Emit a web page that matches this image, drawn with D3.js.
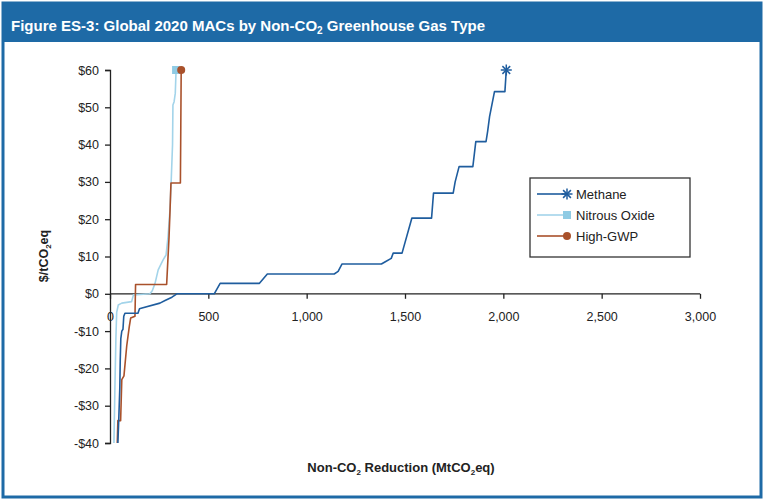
<!DOCTYPE html>
<html><head><meta charset="utf-8">
<script src="https://cdn.jsdelivr.net/npm/d3@7"></script>
<style>
body{margin:0;background:#fff;}
svg{display:block;font-family:"Liberation Sans",Arial,sans-serif;}
</style></head>
<body><svg id="c" width="764" height="502"></svg>
<script>
const seriesNames = ["Methane","Nitrous Oxide","High-GWP"];
const methaneX = [40,45,50,52,55,60,66,70,76,142,150,163,254,280,315,340,530,560,760,800,1140,1160,1180,1380,1400,1430,1440,1485,1535,1635,1645,1745,1755,1775,1845,1860,1912,1920,1930,1955,2008,2015];
const methaneY = [-40,-33,-25,-18,-12,-10,-9.5,-6,-5.2,-5.2,-4,-3.8,-2.5,-1.8,-0.9,0,0,2.8,2.8,5.3,5.3,6,8,8,8.6,9.5,10.9,10.9,20.3,20.3,27,27,30,34.1,34.1,40.8,40.8,43.5,47.5,54.2,54.2,60];
const nitrousX = [20,25,30,34,42,60,110,119,203,215,229,245,255,270,285,295,305,312,318,320,326,332,336];
const nitrousY = [-40,-25,-12,-5,-3,-2.5,-2.1,-0.3,0,0.8,2.8,6.4,7.5,9.1,10.4,15.3,22.5,31.4,40,50.6,51.5,53.8,60];
const hgwpX = [37,40,54,60,71,85,98,105,127,130,288,300,305,310,358,360,362];
const hgwpY = [-40,-34,-34,-23,-22,-14,-8.8,-6.5,-6,2.5,2.5,15,22,29.7,29.7,45,60];
const xTicks = [0,500,1000,1500,2000,2500,3000];
const yTicks = [-40,-30,-20,-10,0,10,20,30,40,50,60];
const colors = ["#1f5d9e","#a3d4ea","#a9512b"];

const svg = d3.select("#c");
// frame
svg.append("rect").attr("x",0).attr("y",0).attr("width",764).attr("height",502).attr("fill","#fff");
svg.append("rect").attr("x",3).attr("y",3).attr("width",758).attr("height",494).attr("fill","none").attr("stroke","#1e6aa6").attr("stroke-width",3);
svg.append("rect").attr("x",2).attr("y",2).attr("width",760).attr("height",40).attr("fill","#1e6aa6");
const title = svg.append("text").attr("x",11).attr("y",31).attr("fill","#fff").attr("font-weight","bold").attr("font-size",15)
  .attr("font-family","'Liberation Sans Narrow','Liberation Sans',Arial,sans-serif");
title.append("tspan").text("Figure ES-3: Global 2020 MACs by Non-CO");
title.append("tspan").text("2").attr("font-size",10).attr("dy",3);
title.append("tspan").text(" Greenhouse Gas Type").attr("dy",-3);
title.attr("textLength",474).attr("lengthAdjust","spacingAndGlyphs");

const x = d3.scaleLinear().domain([0,3000]).range([110,700]);
const y = d3.scaleLinear().domain([-40,60]).range([443,70]);

// axes
const yAxis = svg.append("g").attr("transform","translate(110,0)")
  .call(d3.axisLeft(y).tickValues(yTicks).tickSize(5).tickPadding(6)
    .tickFormat(d => (d<0?"-$":"$")+Math.abs(d)));
const xAxis = svg.append("g").attr("transform",`translate(0,${y(0)})`)
  .call(d3.axisBottom(x).tickValues(xTicks).tickSize(5).tickPadding(13).tickFormat(d3.format(",")));
[yAxis,xAxis].forEach(a=>{
  a.select(".domain").attr("stroke","#222").attr("stroke-width",1.3);
  a.selectAll(".tick line").attr("stroke","#222").attr("stroke-width",1.3);
  a.selectAll("text").attr("font-size",12.5).attr("fill","#222").attr("font-family","'Liberation Sans',Arial,sans-serif");
});
xAxis.select(".domain").attr("d",`M110,0H700`);

// lines
const line = d3.line().x(d=>x(d[0])).y(d=>y(d[1]));
const data = [
  d3.zip(methaneX, methaneY),
  d3.zip(nitrousX, nitrousY),
  d3.zip(hgwpX, hgwpY)
];
const order = [1,2,0];
order.forEach(i=>{
  svg.append("path").datum(data[i]).attr("d",line).attr("fill","none")
    .attr("stroke",colors[i]).attr("stroke-width",1.6).attr("stroke-linejoin","round");
});

function marker(g, i, cx, cy){
  if(i===0){
    const s=5.5;
    for(let k=0;k<4;k++){
      const a=k*Math.PI/4;
      g.append("line").attr("x1",cx-s*Math.cos(a)).attr("y1",cy-s*Math.sin(a))
        .attr("x2",cx+s*Math.cos(a)).attr("y2",cy+s*Math.sin(a)).attr("stroke",colors[0]).attr("stroke-width",1.5);
    }
  } else if(i===1){
    g.append("rect").attr("x",cx-4).attr("y",cy-4).attr("width",8).attr("height",8).attr("fill","#8fcbe4");
  } else {
    g.append("circle").attr("cx",cx).attr("cy",cy).attr("r",4).attr("fill",colors[2]);
  }
}
order.forEach(i=>{
  const last = data[i][data[i].length-1];
  marker(svg, i, x(last[0]), y(last[1]));
});

// legend
const lg = svg.append("g");
lg.append("rect").attr("x",530).attr("y",178).attr("width",160).attr("height",79).attr("fill","#fff").attr("stroke","#333").attr("stroke-width",1.3);
seriesNames.forEach((n,i)=>{
  const yy = 194 + i*21;
  lg.append("line").attr("x1",537).attr("x2",567).attr("y1",yy).attr("y2",yy).attr("stroke",colors[i]).attr("stroke-width",1.6);
  marker(lg, i, 567, yy);
  lg.append("text").attr("x",576).attr("y",yy+4.5).attr("font-size",13).attr("fill","#222").text(n);
});

// axis titles
const yl = svg.append("text").attr("transform","translate(48,256) rotate(-90)").attr("text-anchor","middle")
  .attr("font-weight","bold").attr("font-size",12.5).attr("fill","#222");
yl.append("tspan").text("$/tCO");
yl.append("tspan").text("2").attr("font-size",8).attr("dy",3);
yl.append("tspan").text("eq").attr("dy",-3);

const xl = svg.append("text").attr("x",401).attr("y",472).attr("text-anchor","middle")
  .attr("font-weight","bold").attr("font-size",13).attr("fill","#222");
xl.append("tspan").text("Non-CO");
xl.append("tspan").text("2").attr("font-size",8).attr("dy",3);
xl.append("tspan").text(" Reduction (MtCO").attr("dy",-3);
xl.append("tspan").text("2").attr("font-size",8).attr("dy",3);
xl.append("tspan").text("eq)").attr("dy",-3);
</script></body></html>
